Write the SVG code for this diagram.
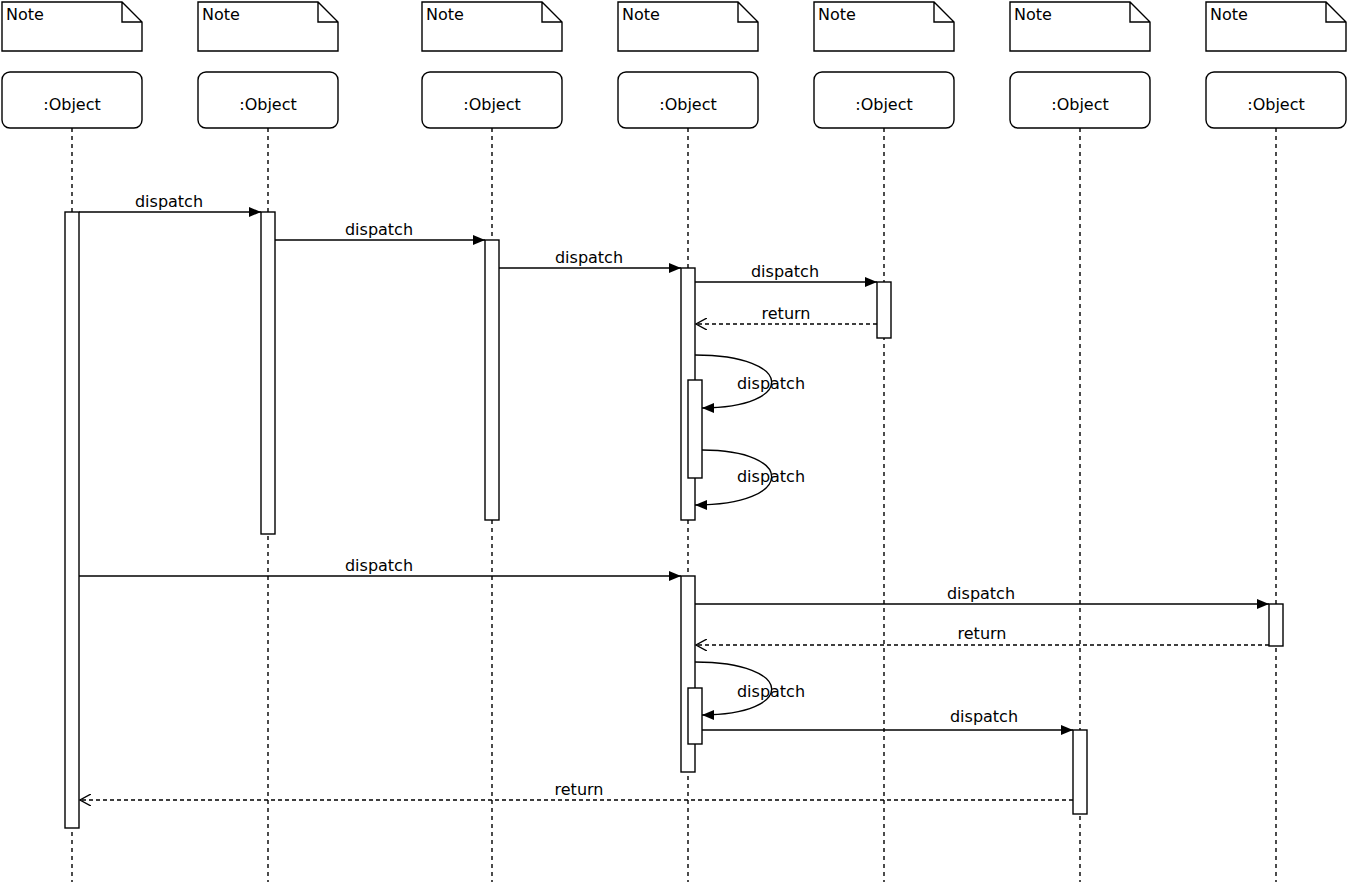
<svg xmlns="http://www.w3.org/2000/svg" width="1347" height="885" viewBox="0 0 1347 885">
<defs>
<style>
text{font-family:"DejaVu Sans",Verdana,sans-serif;font-size:16px;fill:#000}
.lbl{text-anchor:middle}
.note{fill:#fff;stroke:#000;stroke-width:1.4}
.obj{fill:#fff;stroke:#000;stroke-width:1.4}
.life{stroke:#000;stroke-width:1.4;stroke-dasharray:4,4;fill:none}
.act{fill:#fff;stroke:#000;stroke-width:1.4}
.msg{stroke:#000;stroke-width:1.4;fill:none}
.ret{stroke:#000;stroke-width:1.4;fill:none;stroke-dasharray:4,3}
</style>
<marker id="fa" viewBox="0 0 12 10" refX="12" refY="5" markerWidth="12" markerHeight="10" markerUnits="userSpaceOnUse" orient="auto"><path d="M0,0 L12,5 L0,10 z" fill="#000"/></marker>
<marker id="oa" viewBox="0 0 12 12" refX="11" refY="6" markerWidth="12" markerHeight="12" markerUnits="userSpaceOnUse" orient="auto"><path d="M0,0 L11,6 L0,12" fill="none" stroke="#000" stroke-width="1.4"/></marker>
</defs>
<rect width="1347" height="885" fill="#fff"/>
<g id="lifelines">
<line class="life" x1="72" y1="128" x2="72" y2="882"/>
<line class="life" x1="268" y1="128" x2="268" y2="882"/>
<line class="life" x1="492" y1="128" x2="492" y2="882"/>
<line class="life" x1="688" y1="128" x2="688" y2="882"/>
<line class="life" x1="884" y1="128" x2="884" y2="882"/>
<line class="life" x1="1080" y1="128" x2="1080" y2="882"/>
<line class="life" x1="1276" y1="128" x2="1276" y2="882"/>
</g>
<g id="note1"><path class="note" d="M2,2 H122 L142,22 V51 H2 Z M122,2 V22 H142"/><text x="6" y="20">Note</text></g>
<g id="note2"><path class="note" d="M198,2 H318 L338,22 V51 H198 Z M318,2 V22 H338"/><text x="202" y="20">Note</text></g>
<g id="note3"><path class="note" d="M422,2 H542 L562,22 V51 H422 Z M542,2 V22 H562"/><text x="426" y="20">Note</text></g>
<g id="note4"><path class="note" d="M618,2 H738 L758,22 V51 H618 Z M738,2 V22 H758"/><text x="622" y="20">Note</text></g>
<g id="note5"><path class="note" d="M814,2 H934 L954,22 V51 H814 Z M934,2 V22 H954"/><text x="818" y="20">Note</text></g>
<g id="note6"><path class="note" d="M1010,2 H1130 L1150,22 V51 H1010 Z M1130,2 V22 H1150"/><text x="1014" y="20">Note</text></g>
<g id="note7"><path class="note" d="M1206,2 H1326 L1346,22 V51 H1206 Z M1326,2 V22 H1346"/><text x="1210" y="20">Note</text></g>
<g id="obj1"><rect class="obj" x="2" y="72" width="140" height="56" rx="8"/><text class="lbl" x="72" y="110">:Object</text></g>
<g id="obj2"><rect class="obj" x="198" y="72" width="140" height="56" rx="8"/><text class="lbl" x="268" y="110">:Object</text></g>
<g id="obj3"><rect class="obj" x="422" y="72" width="140" height="56" rx="8"/><text class="lbl" x="492" y="110">:Object</text></g>
<g id="obj4"><rect class="obj" x="618" y="72" width="140" height="56" rx="8"/><text class="lbl" x="688" y="110">:Object</text></g>
<g id="obj5"><rect class="obj" x="814" y="72" width="140" height="56" rx="8"/><text class="lbl" x="884" y="110">:Object</text></g>
<g id="obj6"><rect class="obj" x="1010" y="72" width="140" height="56" rx="8"/><text class="lbl" x="1080" y="110">:Object</text></g>
<g id="obj7"><rect class="obj" x="1206" y="72" width="140" height="56" rx="8"/><text class="lbl" x="1276" y="110">:Object</text></g>
<g id="activations">
<rect class="act" x="65" y="212" width="14" height="616"/>
<rect class="act" x="261" y="212" width="14" height="322"/>
<rect class="act" x="485" y="240" width="14" height="280"/>
<rect class="act" x="681" y="268" width="14" height="252"/>
<rect class="act" x="877" y="282" width="14" height="56"/>
<rect class="act" x="688" y="380" width="14" height="98"/>
<rect class="act" x="681" y="576" width="14" height="196"/>
<rect class="act" x="1269" y="604" width="14" height="42"/>
<rect class="act" x="688" y="688" width="14" height="56"/>
<rect class="act" x="1073" y="730" width="14" height="84"/>
</g>
<g id="connectors">
<line class="msg" x1="79" y1="212" x2="261" y2="212" marker-end="url(#fa)"/>
<line class="msg" x1="275" y1="240" x2="485" y2="240" marker-end="url(#fa)"/>
<line class="msg" x1="499" y1="268" x2="681" y2="268" marker-end="url(#fa)"/>
<line class="msg" x1="695" y1="282" x2="877" y2="282" marker-end="url(#fa)"/>
<line class="ret" x1="877" y1="324" x2="696" y2="324" marker-end="url(#oa)"/>
<path class="msg" d="M695,355 C796,355 796,408 702,408" marker-end="url(#fa)"/>
<path class="msg" d="M702,450 C796,450 796,505 695,505" marker-end="url(#fa)"/>
<line class="msg" x1="79" y1="576" x2="681" y2="576" marker-end="url(#fa)"/>
<line class="msg" x1="695" y1="604" x2="1269" y2="604" marker-end="url(#fa)"/>
<line class="ret" x1="1269" y1="645" x2="696" y2="645" marker-end="url(#oa)"/>
<path class="msg" d="M695,662 C796,662 796,715 702,715" marker-end="url(#fa)"/>
<line class="msg" x1="702" y1="730" x2="1073" y2="730" marker-end="url(#fa)"/>
<line class="ret" x1="1073" y1="800" x2="80" y2="800" marker-end="url(#oa)"/>
</g>
<g id="labels">
<text class="lbl" x="169" y="207">dispatch</text>
<text class="lbl" x="379" y="235">dispatch</text>
<text class="lbl" x="589" y="263">dispatch</text>
<text class="lbl" x="785" y="277">dispatch</text>
<text class="lbl" x="786" y="319">return</text>
<text class="lbl" x="771" y="389">dispatch</text>
<text class="lbl" x="771" y="482">dispatch</text>
<text class="lbl" x="379" y="571">dispatch</text>
<text class="lbl" x="981" y="599">dispatch</text>
<text class="lbl" x="982" y="639">return</text>
<text class="lbl" x="771" y="697">dispatch</text>
<text class="lbl" x="984" y="722">dispatch</text>
<text class="lbl" x="579" y="795">return</text>
</g>
</svg>
